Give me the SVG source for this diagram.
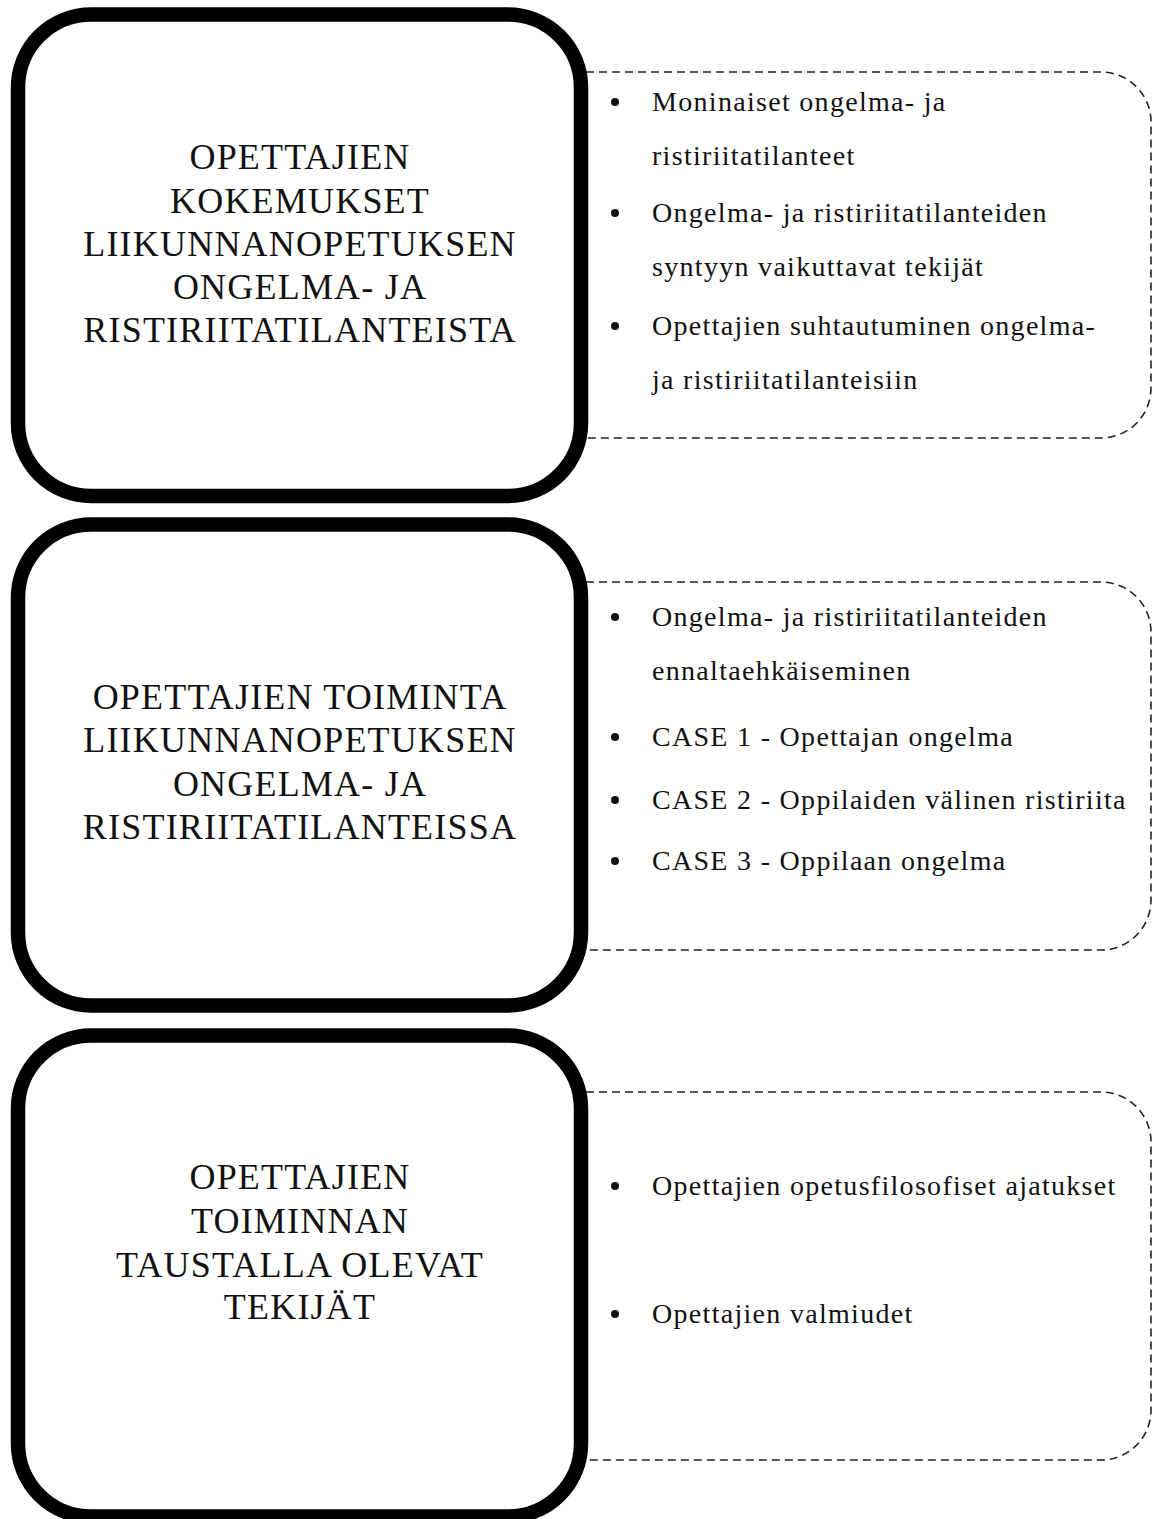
<svg xmlns="http://www.w3.org/2000/svg" width="1154" height="1519" viewBox="0 0 1154 1519">
<style>
.main{fill:#fff;stroke:#000;stroke-width:14.5}
.dash{fill:#fff;stroke:#222;stroke-width:1.6;stroke-dasharray:8 5}
.title{font-family:"Liberation Serif","Times New Roman",serif;font-size:36px;letter-spacing:1.2px;fill:#111;text-anchor:middle}
.item{font-family:"Liberation Serif","Times New Roman",serif;font-size:28px;letter-spacing:1.3px;fill:#111}
.dot{fill:#111}
</style>
<rect width="1154" height="1519" fill="#fff"/>
<g id="connectors"></g>

<g id="list1">
<path class="dash" d="M560 72 H1101 A50 50 0 0 1 1151 122 V388 A50 50 0 0 1 1101 438 H560"/>
<circle class="dot" cx="615" cy="102" r="4"/>
<text class="item" x="652" y="111">Moninaiset ongelma- ja</text>
<text class="item" x="652" y="165">ristiriitatilanteet</text>
<circle class="dot" cx="615" cy="213" r="4"/>
<text class="item" x="652" y="222">Ongelma- ja ristiriitatilanteiden</text>
<text class="item" x="652" y="276">syntyyn vaikuttavat tekijät</text>
<circle class="dot" cx="615" cy="326" r="4"/>
<text class="item" x="652" y="335">Opettajien suhtautuminen ongelma-</text>
<text class="item" x="652" y="389">ja ristiriitatilanteisiin</text>
</g>

<g id="list2">
<path class="dash" d="M560 582 H1101 A50 50 0 0 1 1151 632 V900 A50 50 0 0 1 1101 950 H560"/>
<circle class="dot" cx="615" cy="617" r="4"/>
<text class="item" x="652" y="626">Ongelma- ja ristiriitatilanteiden</text>
<text class="item" x="652" y="680">ennaltaehkäiseminen</text>
<circle class="dot" cx="615" cy="737" r="4"/>
<text class="item" x="652" y="746">CASE 1 - Opettajan ongelma</text>
<circle class="dot" cx="615" cy="800" r="4"/>
<text class="item" x="652" y="809">CASE 2 - Oppilaiden välinen ristiriita</text>
<circle class="dot" cx="615" cy="861" r="4"/>
<text class="item" x="652" y="870">CASE 3 - Oppilaan ongelma</text>
</g>

<g id="list3">
<path class="dash" d="M560 1092 H1101 A50 50 0 0 1 1151 1142 V1410 A50 50 0 0 1 1101 1460 H560"/>
<circle class="dot" cx="615" cy="1186" r="4"/>
<text class="item" x="652" y="1195">Opettajien opetusfilosofiset ajatukset</text>
<circle class="dot" cx="615" cy="1314" r="4"/>
<text class="item" x="652" y="1323">Opettajien valmiudet</text>
</g>

<g id="box1">
<rect class="main" x="18" y="14.5" width="563" height="481.5" rx="73" ry="73"/>
<text class="title" x="300" y="169">OPETTAJIEN</text>
<text class="title" x="300" y="213">KOKEMUKSET</text>
<text class="title" x="300" y="256">LIIKUNNANOPETUKSEN</text>
<text class="title" x="300" y="299">ONGELMA- JA</text>
<text class="title" x="300" y="342">RISTIRIITATILANTEISTA</text>
</g>

<g id="box2">
<rect class="main" x="18" y="524.5" width="563" height="481" rx="73" ry="73"/>
<text class="title" x="300" y="709">OPETTAJIEN TOIMINTA</text>
<text class="title" x="300" y="752">LIIKUNNANOPETUKSEN</text>
<text class="title" x="300" y="796">ONGELMA- JA</text>
<text class="title" x="300" y="839">RISTIRIITATILANTEISSA</text>
</g>

<g id="box3">
<rect class="main" x="18" y="1035.5" width="563" height="481" rx="73" ry="73"/>
<text class="title" x="300" y="1189">OPETTAJIEN</text>
<text class="title" x="300" y="1233">TOIMINNAN</text>
<text class="title" x="300" y="1277">TAUSTALLA OLEVAT</text>
<text class="title" x="300" y="1319">TEKIJÄT</text>
</g>
</svg>
